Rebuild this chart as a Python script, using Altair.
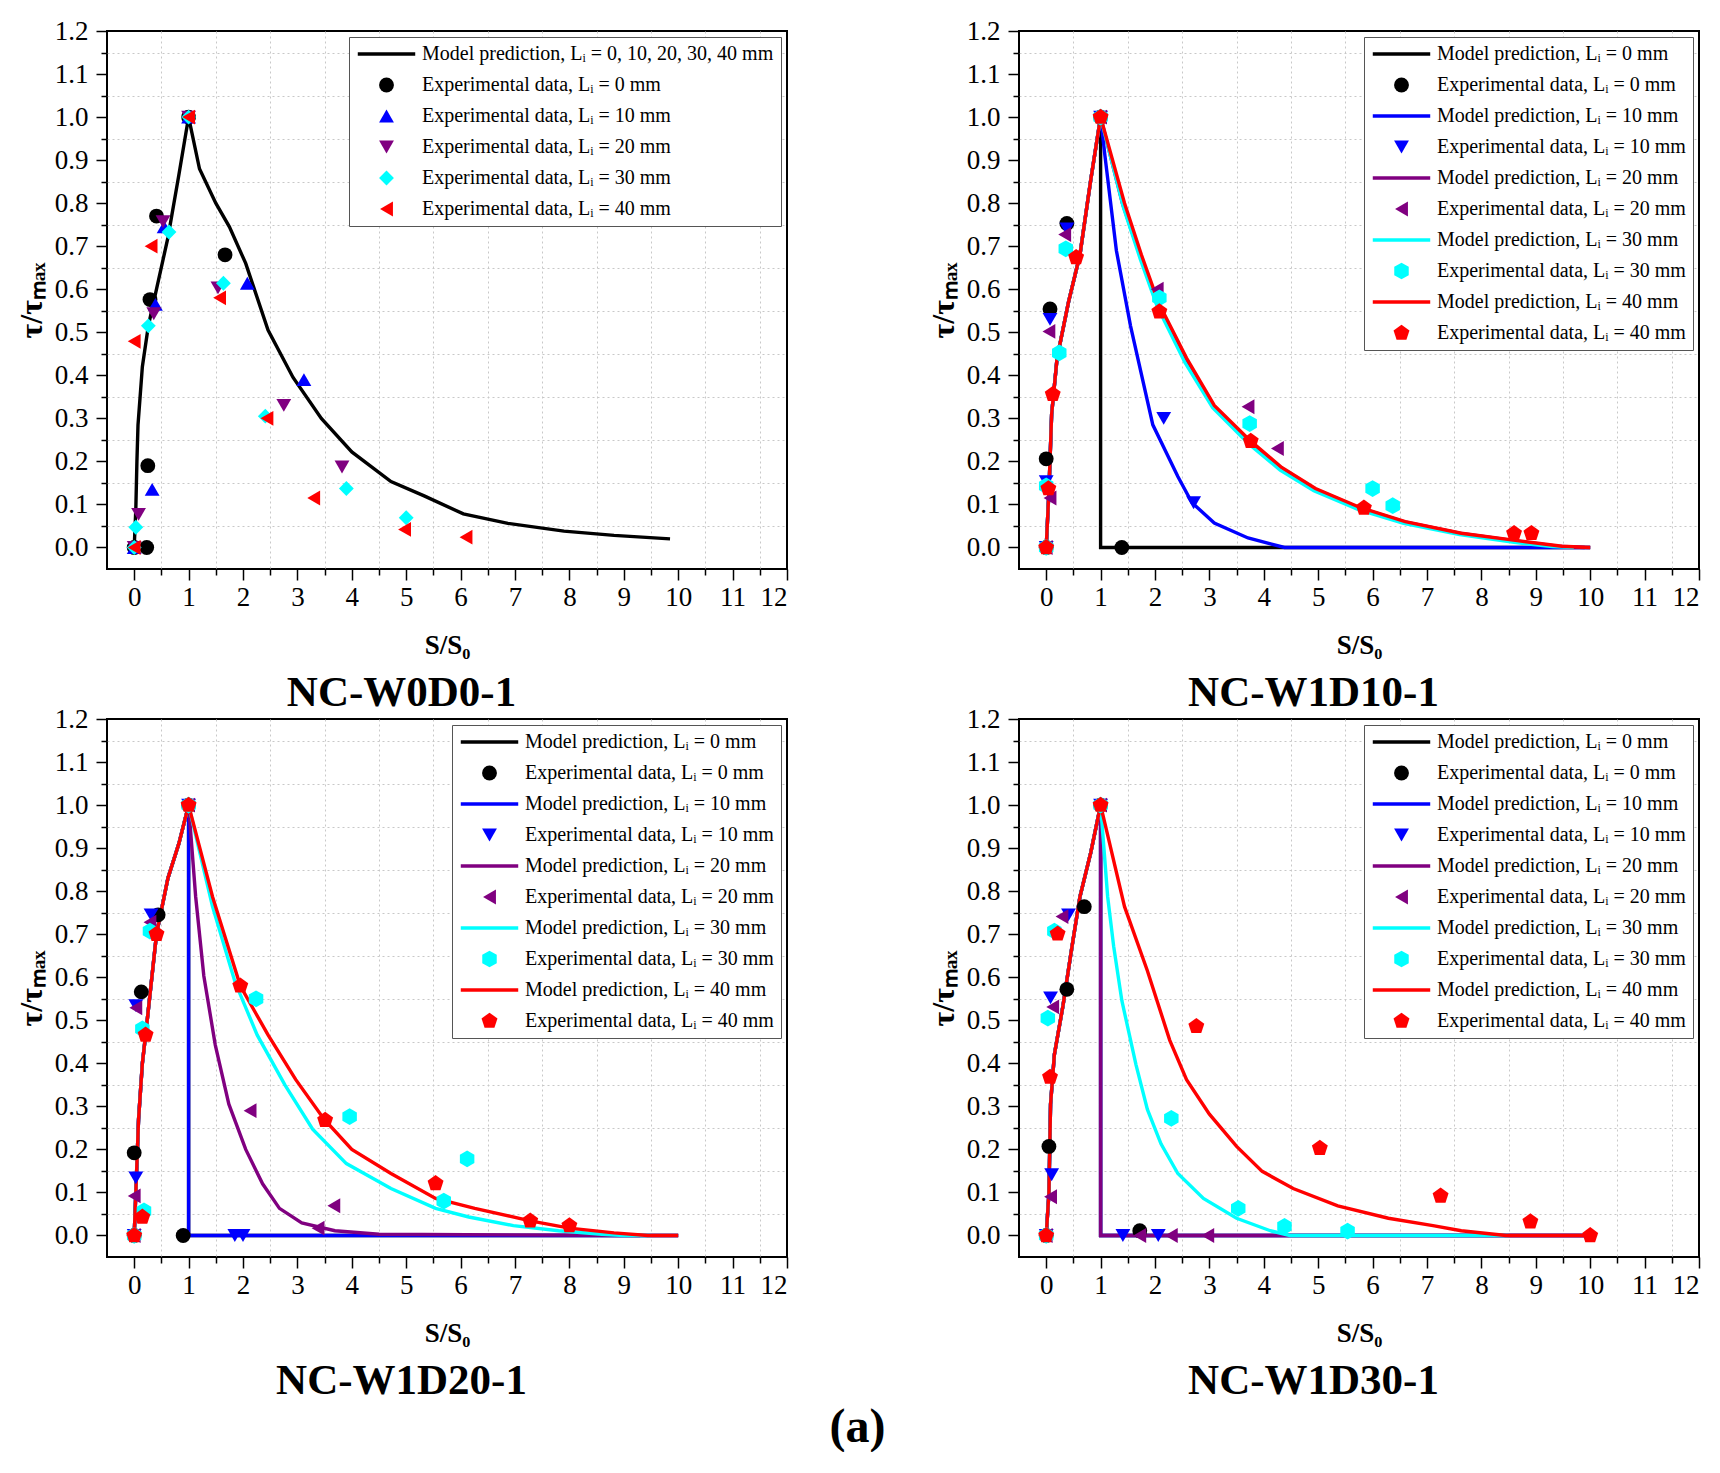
import altair as alt
import pandas as pd

FONT = "Liberation Serif"

# ---------------- categories / styles ----------------
TITLES = ["NC-W0D0-1", "NC-W1D10-1", "NC-W1D20-1", "NC-W1D30-1"]
LI_VALUES = [0, 10, 20, 30, 40]
COLORS = ["#000000", "#0000FF", "#800080", "#00FFFF", "#FF0000"]
PENTAGON = "M0,-1L0.951,-0.309L0.588,0.809L-0.588,0.809L-0.951,-0.309Z"
HEXAGON = "M0,-1L0.866,-0.5L0.866,0.5L0,1L-0.866,0.5L-0.866,-0.5Z"
SHAPES_P1 = ["circle", "triangle-up", "triangle-down", "diamond", "triangle-left"]
SHAPES_PX = ["circle", "triangle-down", "triangle-left", HEXAGON, PENTAGON]

X_TICKS = [0, 0.5, 1, 1.5, 2, 2.5, 3, 3.5, 4, 4.5, 5, 5.5, 6, 6.5, 7, 7.5, 8, 8.5,
           9, 9.5, 10, 10.5, 11, 11.5, 12]
Y_TICKS = [0, 0.05, 0.1, 0.15, 0.2, 0.25, 0.3, 0.35, 0.4, 0.45, 0.5, 0.55, 0.6,
           0.65, 0.7, 0.75, 0.8, 0.85, 0.9, 0.95, 1.0, 1.05, 1.1, 1.15, 1.2]

# ---------------- Panel 1: NC-W0D0-1 ----------------
P1_MODEL_X = [0, 0.03, 0.05, 0.07, 0.15, 0.26, 0.41, 0.62, 0.82, 1.0, 1.2, 1.5, 1.75,
              2.05, 2.46, 2.92, 3.44, 4.0, 4.72, 5.33, 6.05, 6.87, 7.9, 8.82, 9.85]
P1_MODEL_Y = [0, 0.09, 0.2, 0.285, 0.42, 0.515, 0.6, 0.72, 0.865, 1.0, 0.88, 0.8, 0.745,
              0.66, 0.505, 0.395, 0.3, 0.222, 0.153, 0.12, 0.078, 0.056, 0.038, 0.028, 0.02]
P1_E0_X = [0, 0.23, 0.25, 0.29, 0.41, 1.0, 1.67]
P1_E0_Y = [0, 0, 0.19, 0.576, 0.77, 1.0, 0.68]
P1_E10_X = [0, 0.33, 0.39, 0.55, 1.0, 2.08, 3.12]
P1_E10_Y = [0, 0.135, 0.565, 0.745, 1.0, 0.614, 0.39]
P1_E20_X = [0, 0.08, 0.36, 0.53, 1.0, 1.54, 2.75, 3.82]
P1_E20_Y = [0, 0.077, 0.543, 0.757, 1.0, 0.603, 0.33, 0.187]
P1_E30_X = [0, 0.03, 0.26, 0.64, 1.0, 1.64, 2.41, 3.9, 5.0]
P1_E30_Y = [0, 0.047, 0.515, 0.733, 1.0, 0.614, 0.305, 0.137, 0.069]
P1_E40_X = [0, 0.0, 0.31, 1.0, 1.57, 2.44, 3.3, 4.97, 6.1]
P1_E40_Y = [0, 0.479, 0.70, 1.0, 0.58, 0.30, 0.115, 0.042, 0.024]

# ---------------- Panel 2: NC-W1D10-1 ----------------
P2_RISE_X = [0, 0.05, 0.1, 0.2, 0.41, 0.62, 0.82, 1.0]
P2_RISE_Y = [0, 0.13, 0.31, 0.44, 0.57, 0.68, 0.855, 1.0]
P2_M0_X = [1.0, 1.0, 10.0]
P2_M0_Y = [1.0, 0.0, 0.0]
P2_M10_X = [1.0, 1.08, 1.29, 1.55, 1.96, 2.42, 2.68, 3.09, 3.71, 4.38, 10.0]
P2_M10_Y = [1.0, 0.91, 0.69, 0.515, 0.285, 0.165, 0.104, 0.057, 0.022, 0.0, 0.0]
P2_M20_X = [1.0, 1.4, 1.72, 2.03, 2.55, 3.05, 3.72, 4.3, 4.92, 5.74, 6.57, 7.6, 8.6, 9.4, 9.9]
P2_M20_Y = [1.0, 0.8, 0.68, 0.57, 0.44, 0.33, 0.247, 0.186, 0.137, 0.093, 0.06, 0.033, 0.016, 0.003, 0.0]
P2_M30_X = [1.0, 1.42, 1.73, 2.04, 2.55, 3.06, 3.73, 4.3, 4.92, 5.74, 6.57, 7.6, 8.6, 9.3, 9.7]
P2_M30_Y = [1.0, 0.79, 0.67, 0.56, 0.43, 0.325, 0.24, 0.18, 0.132, 0.088, 0.056, 0.03, 0.012, 0.002, 0.0]
P2_M40_X = [1.0, 1.44, 1.75, 2.06, 2.58, 3.09, 3.76, 4.33, 4.95, 5.77, 6.6, 7.63, 8.66, 9.48, 10.0]
P2_M40_Y = [1.0, 0.8, 0.68, 0.57, 0.44, 0.33, 0.247, 0.186, 0.137, 0.093, 0.06, 0.033, 0.016, 0.003, 0.0]
P2_E0_X = [0, 0, 0.07, 0.38, 1.0, 1.39]
P2_E0_Y = [0, 0.206, 0.554, 0.753, 1.0, 0.0]
P2_E10_X = [0, 0, 0.07, 0.38, 1.0, 2.16, 2.71]
P2_E10_Y = [0, 0.153, 0.53, 0.74, 1.0, 0.30, 0.104]
P2_E20_X = [0, 0.07, 0.05, 0.34, 1.0, 2.04, 3.71, 4.25]
P2_E20_Y = [0, 0.115, 0.502, 0.727, 1.0, 0.60, 0.327, 0.23]
P2_E30_X = [0, 0, 0.24, 0.36, 1.0, 2.08, 3.74, 6.0, 6.37]
P2_E30_Y = [0, 0.143, 0.452, 0.694, 1.0, 0.58, 0.288, 0.137, 0.097]
P2_E40_X = [0, 0.04, 0.12, 0.55, 1.0, 2.08, 3.76, 5.84, 8.6, 8.92]
P2_E40_Y = [0, 0.137, 0.356, 0.674, 1.0, 0.548, 0.247, 0.092, 0.033, 0.033]

# ---------------- Panel 3: NC-W1D20-1 ----------------
P3_RISE_X = [0, 0.03, 0.08, 0.15, 0.21, 0.41, 0.62, 0.82, 1.0]
P3_RISE_Y = [0, 0.1, 0.27, 0.40, 0.466, 0.70, 0.83, 0.91, 1.0]
P3_M0_X = [1.0, 1.0, 10.0]
P3_M0_Y = [1.0, 0.0, 0.0]
P3_M10_X = [1.0, 1.0, 10.0]
P3_M10_Y = [1.0, 0.0, 0.0]
P3_M20_X = [1.0, 1.13, 1.28, 1.49, 1.74, 2.05, 2.36, 2.67, 3.08, 3.69, 4.5, 9.3]
P3_M20_Y = [1.0, 0.787, 0.603, 0.443, 0.305, 0.2, 0.12, 0.063, 0.029, 0.011, 0.003, 0.0]
P3_M30_X = [1.0, 1.44, 1.85, 2.26, 2.77, 3.28, 3.9, 4.72, 5.54, 6.15, 6.97, 7.8, 8.6, 9.0, 9.5]
P3_M30_Y = [1.0, 0.764, 0.59, 0.466, 0.35, 0.247, 0.167, 0.109, 0.063, 0.043, 0.023, 0.011, 0.003, 0.0, 0.0]
P3_M40_X = [1.0, 1.44, 1.95, 2.46, 2.97, 3.49, 4.0, 4.72, 5.54, 6.26, 7.28, 8.0, 8.82, 9.44, 10.0]
P3_M40_Y = [1.0, 0.787, 0.58, 0.466, 0.362, 0.27, 0.2, 0.144, 0.086, 0.063, 0.034, 0.017, 0.006, 0.0, 0.0]
P3_E0_X = [0, 0, 0.13, 0.44, 1.0, 0.9]
P3_E0_Y = [0, 0.192, 0.566, 0.745, 1.0, 0]
P3_E10_X = [0, 0.03, 0.03, 0.31, 1.0, 1.85, 2.0]
P3_E10_Y = [0, 0.134, 0.534, 0.745, 1.0, 0, 0]
P3_E20_X = [0, 0, 0.03, 0.29, 1.0, 2.13, 3.67, 3.38]
P3_E20_Y = [0, 0.092, 0.529, 0.728, 1.0, 0.29, 0.069, 0.017]
P3_E30_X = [0, 0.18, 0.15, 0.29, 1.0, 2.24, 3.96, 6.12, 5.69]
P3_E30_Y = [0, 0.057, 0.48, 0.707, 1.0, 0.55, 0.276, 0.178, 0.08]
P3_E40_X = [0, 0.15, 0.21, 0.41, 1.0, 1.95, 3.51, 5.54, 7.28, 8.0]
P3_E40_Y = [0, 0.043, 0.466, 0.70, 1.0, 0.58, 0.268, 0.121, 0.034, 0.023]

# ---------------- Panel 4: NC-W1D30-1 ----------------
P4_RISE_X = [0, 0.05, 0.08, 0.15, 0.31, 0.46, 0.62, 0.82, 1.0]
P4_RISE_Y = [0, 0.098, 0.305, 0.42, 0.535, 0.66, 0.787, 0.89, 1.0]
P4_M0_X = [1.0, 1.0, 10.0]
P4_M0_Y = [1.0, 0.0, 0.0]
P4_M10_X = [1.0, 1.0, 10.0]
P4_M10_Y = [1.0, 0.0, 0.0]
P4_M20_X = [1.0, 1.0, 10.0]
P4_M20_Y = [1.0, 0.0, 0.0]
P4_M30_X = [1.0, 1.13, 1.24, 1.39, 1.65, 1.86, 2.11, 2.42, 2.89, 3.5, 4.12, 4.48, 8.5]
P4_M30_Y = [1.0, 0.787, 0.672, 0.546, 0.397, 0.293, 0.213, 0.144, 0.086, 0.04, 0.011, 0.0, 0.0]
P4_M40_X = [1.0, 1.44, 1.86, 2.27, 2.58, 3.0, 3.5, 3.97, 4.54, 5.36, 6.29, 7.11, 7.63, 8.45, 10.0]
P4_M40_Y = [1.0, 0.764, 0.615, 0.454, 0.362, 0.282, 0.207, 0.149, 0.109, 0.069, 0.04, 0.023, 0.011, 0.0, 0.0]
P4_E0_X = [0, 0.05, 0.38, 0.7, 1.0, 1.72]
P4_E0_Y = [0, 0.207, 0.572, 0.764, 1.0, 0.011]
P4_E10_X = [0, 0.1, 0.08, 0.41, 1.0, 1.41, 2.06]
P4_E10_Y = [0, 0.141, 0.552, 0.745, 1.0, 0, 0]
P4_E20_X = [0, 0.08, 0.12, 0.29, 1.0, 1.72, 2.3, 2.97]
P4_E20_Y = [0, 0.09, 0.531, 0.741, 1.0, 0, 0, 0]
P4_E30_X = [0, 0.03, 0.15, 1.0, 2.3, 3.53, 4.38, 5.54]
P4_E30_Y = [0, 0.505, 0.707, 1.0, 0.272, 0.063, 0.021, 0.01]
P4_E40_X = [0, 0.07, 0.21, 1.0, 2.76, 5.03, 7.25, 8.9, 10.0]
P4_E40_Y = [0, 0.368, 0.701, 1.0, 0.486, 0.203, 0.092, 0.032, 0.0]


def model_name(li):
    return f"Model prediction, Lᵢ = {li} mm"


def exp_name(li):
    return f"Experimental data, Lᵢ = {li} mm"


MODEL_ALL = "Model prediction, Lᵢ = 0, 10, 20, 30, 40 mm"

LINE_W = 3.4
PT_SIZE = 220
POLY_SIZE = 280

x_axis = alt.Axis(
    values=X_TICKS, format=".0f",
    labelExpr="datum.value % 1 === 0 ? datum.label : ''",
    tickSize={"condition": {"test": "datum.value % 1 === 0", "value": 11}, "value": 6},
    gridOpacity={"condition": {"test": "datum.value % 1 !== 0", "value": 1}, "value": 0},
    labelPadding=4, titlePadding=22, labelOverlap=False, labelBound=False,
)
y_axis = alt.Axis(
    values=Y_TICKS, format=".1f",
    labelExpr="round(datum.value * 100) % 10 === 0 ? datum.label : ''",
    tickSize={"condition": {"test": "round(datum.value * 100) % 10 === 0", "value": 11}, "value": 6},
    gridOpacity={"condition": {"test": "round(datum.value * 100) % 10 !== 0", "value": 1}, "value": 0},
    labelPadding=8, titlePadding=6, labelOverlap=False, labelBound=False,
    titleFontSize=32,
)


def build_panel(title, curves, exps, first_panel):
    line_rows = []
    for name, color, xs, ys in curves:
        for i, (xv, yv) in enumerate(zip(xs, ys)):
            line_rows.append({"series": name, "col": color, "x": xv, "y": yv, "i": i})
    pt_rows = []
    k = 0
    for name, xs, ys in exps:
        for xv, yv in zip(xs, ys):
            pt_rows.append({"series": name, "x": xv, "y": yv, "k": k})
            k += 1
    lines_df = pd.DataFrame(line_rows)
    pts_df = pd.DataFrame(pt_rows)

    if first_panel:
        domain = [MODEL_ALL] + [exp_name(li) for li in LI_VALUES]
        colors = [COLORS[0]] + COLORS
        shapes = ["stroke"] + SHAPES_P1
        sizes = [3300] + [PT_SIZE] * 5
        widths = [LINE_W] + [0] * 5
    else:
        domain, colors, shapes, sizes, widths = [], [], [], [], []
        for j, li in enumerate(LI_VALUES):
            domain += [model_name(li), exp_name(li)]
            colors += [COLORS[j], COLORS[j]]
            shapes += ["stroke", SHAPES_PX[j]]
            sizes += [3300, POLY_SIZE if j >= 3 else PT_SIZE]
            widths += [LINE_W, 0]

    leg = alt.Legend(title=None, orient="top-right", offset=6)
    xenc = alt.X("x:Q", scale=alt.Scale(domain=[-0.5, 12], nice=False, zero=False),
                 axis=x_axis, title="S/S₀")
    yenc = alt.Y("y:Q", scale=alt.Scale(domain=[-0.05, 1.2], nice=False, zero=False),
                 axis=y_axis, title="τ/τₘₐₓ")

    lines = alt.Chart(lines_df).mark_line(strokeWidth=LINE_W).encode(
        x=xenc, y=yenc,
        color=alt.Color("col:N", scale=None),
        detail="series:N",
        order=alt.Order("i:Q"),
    )
    points = alt.Chart(pts_df).mark_point(filled=True, opacity=1).encode(
        x=xenc, y=yenc,
        fill=alt.Fill("series:N", scale=alt.Scale(domain=domain, range=colors), legend=leg),
        stroke=alt.Stroke("series:N", scale=alt.Scale(domain=domain, range=colors), legend=leg),
        shape=alt.Shape("series:N", scale=alt.Scale(domain=domain, range=shapes), legend=leg),
        size=alt.Size("series:N", scale=alt.Scale(type="ordinal", domain=domain, range=sizes), legend=leg),
        strokeWidth=alt.StrokeWidth("series:N", scale=alt.Scale(type="ordinal", domain=domain, range=widths), legend=leg),
        order=alt.Order("k:Q"),
    )
    return alt.layer(lines, points).properties(
        width=680, height=538,
        title=alt.TitleParams(title, orient="bottom", anchor="middle", frame="bounds",
                              fontSize=43, font=FONT, fontWeight="bold", color="black",
                              offset=14),
    )


p1 = build_panel(
    TITLES[0],
    [(MODEL_ALL, COLORS[0], P1_MODEL_X, P1_MODEL_Y)],
    [(exp_name(0), P1_E0_X, P1_E0_Y), (exp_name(10), P1_E10_X, P1_E10_Y),
     (exp_name(20), P1_E20_X, P1_E20_Y), (exp_name(30), P1_E30_X, P1_E30_Y),
     (exp_name(40), P1_E40_X, P1_E40_Y)],
    True,
)
p2 = build_panel(
    TITLES[1],
    [(model_name(0), COLORS[0], P2_RISE_X + P2_M0_X[1:], P2_RISE_Y + P2_M0_Y[1:]),
     (model_name(10), COLORS[1], P2_RISE_X + P2_M10_X[1:], P2_RISE_Y + P2_M10_Y[1:]),
     (model_name(20), COLORS[2], P2_RISE_X + P2_M20_X[1:], P2_RISE_Y + P2_M20_Y[1:]),
     (model_name(30), COLORS[3], P2_RISE_X + P2_M30_X[1:], P2_RISE_Y + P2_M30_Y[1:]),
     (model_name(40), COLORS[4], P2_RISE_X + P2_M40_X[1:], P2_RISE_Y + P2_M40_Y[1:])],
    [(exp_name(0), P2_E0_X, P2_E0_Y), (exp_name(10), P2_E10_X, P2_E10_Y),
     (exp_name(20), P2_E20_X, P2_E20_Y), (exp_name(30), P2_E30_X, P2_E30_Y),
     (exp_name(40), P2_E40_X, P2_E40_Y)],
    False,
)
p3 = build_panel(
    TITLES[2],
    [(model_name(0), COLORS[0], P3_RISE_X + P3_M0_X[1:], P3_RISE_Y + P3_M0_Y[1:]),
     (model_name(10), COLORS[1], P3_RISE_X + P3_M10_X[1:], P3_RISE_Y + P3_M10_Y[1:]),
     (model_name(20), COLORS[2], P3_RISE_X + P3_M20_X[1:], P3_RISE_Y + P3_M20_Y[1:]),
     (model_name(30), COLORS[3], P3_RISE_X + P3_M30_X[1:], P3_RISE_Y + P3_M30_Y[1:]),
     (model_name(40), COLORS[4], P3_RISE_X + P3_M40_X[1:], P3_RISE_Y + P3_M40_Y[1:])],
    [(exp_name(0), P3_E0_X, P3_E0_Y), (exp_name(10), P3_E10_X, P3_E10_Y),
     (exp_name(20), P3_E20_X, P3_E20_Y), (exp_name(30), P3_E30_X, P3_E30_Y),
     (exp_name(40), P3_E40_X, P3_E40_Y)],
    False,
)
p4 = build_panel(
    TITLES[3],
    [(model_name(0), COLORS[0], P4_RISE_X + P4_M0_X[1:], P4_RISE_Y + P4_M0_Y[1:]),
     (model_name(10), COLORS[1], P4_RISE_X + P4_M10_X[1:], P4_RISE_Y + P4_M10_Y[1:]),
     (model_name(20), COLORS[2], P4_RISE_X + P4_M20_X[1:], P4_RISE_Y + P4_M20_Y[1:]),
     (model_name(30), COLORS[3], P4_RISE_X + P4_M30_X[1:], P4_RISE_Y + P4_M30_Y[1:]),
     (model_name(40), COLORS[4], P4_RISE_X + P4_M40_X[1:], P4_RISE_Y + P4_M40_Y[1:])],
    [(exp_name(0), P4_E0_X, P4_E0_Y), (exp_name(10), P4_E10_X, P4_E10_Y),
     (exp_name(20), P4_E20_X, P4_E20_Y), (exp_name(30), P4_E30_X, P4_E30_Y),
     (exp_name(40), P4_E40_X, P4_E40_Y)],
    False,
)

IND = dict(fill="independent", stroke="independent", shape="independent",
           size="independent", strokeWidth="independent", color="independent")

row1 = alt.hconcat(p1, p2, spacing=137).resolve_scale(**IND)
row2 = alt.hconcat(p3, p4, spacing=137).resolve_scale(**IND)

chart = alt.vconcat(row1, row2, spacing=-12).resolve_scale(**IND).properties(
    title=alt.TitleParams("(a)", orient="bottom", anchor="middle", fontSize=48,
                          font=FONT, fontWeight="bold", color="black", offset=0),
    padding={"left": 6, "top": 8, "right": 0, "bottom": 0},
    background="white",
).configure_view(
    stroke="black", strokeWidth=2,
).configure_axis(
    labelFont=FONT, labelFontSize=27, labelColor="black",
    titleFont=FONT, titleFontSize=27, titleFontWeight="bold", titleColor="black",
    tickColor="black", tickWidth=1.5, domain=False,
    grid=True, gridColor="#c8c8c8", gridDash=[2, 3], gridWidth=1,
).configure_legend(
    labelFont=FONT, labelFontSize=20, labelColor="black", labelLimit=1000,
    rowPadding=11, padding=7, labelOffset=5, clipHeight=20,
    strokeColor="#555555", fillColor="white", cornerRadius=0,
)

chart.save("out.html", embed_options={"renderer": "svg", "actions": False})
